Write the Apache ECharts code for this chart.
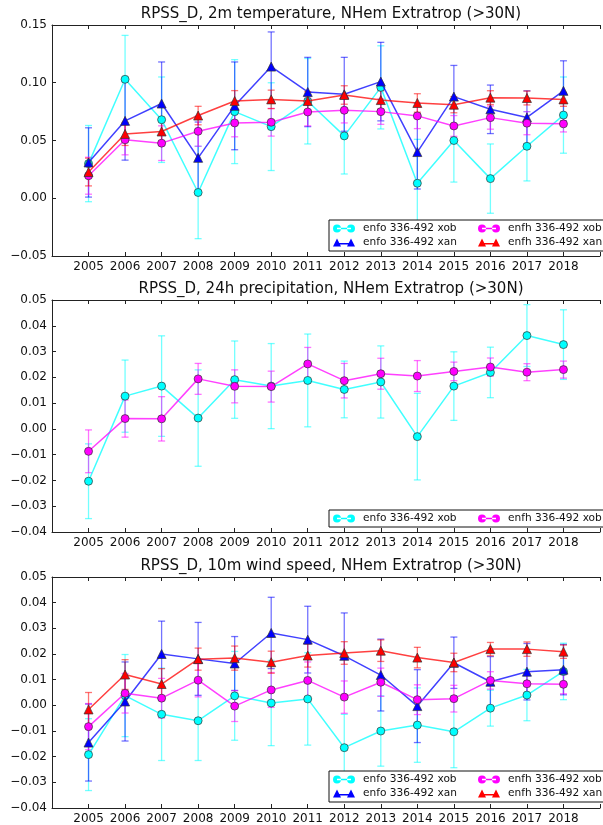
<!DOCTYPE html>
<html>
<head>
<meta charset="utf-8">
<script src="https://cdn.jsdelivr.net/npm/echarts@6/dist/echarts.min.js"></script>
<style>html,body{margin:0;padding:0;background:#fff}#c{width:603px;height:825px}</style>
</head>
<body>
<div id="c"></div>
<script>
// ---------- data ----------
const years = [2005,2006,2007,2008,2009,2010,2011,2012,2013,2014,2015,2016,2017,2018];

// Panel 1: 2m temperature
const t2m_enfo_xob     = [0.030,0.103,0.068,0.005,0.075,0.062,0.084,0.054,0.096,0.013,0.050,0.017,0.045,0.072];
const t2m_enfo_xob_err = [0.033,0.038,0.037,0.040,0.045,0.038,0.037,0.033,0.036,0.038,0.036,0.030,0.030,0.033];
const t2m_enfo_xan     = [0.031,0.067,0.082,0.035,0.080,0.114,0.092,0.090,0.101,0.040,0.088,0.077,0.070,0.093];
const t2m_enfo_xan_err = [0.030,0.034,0.036,0.031,0.038,0.030,0.030,0.032,0.034,0.032,0.027,0.021,0.023,0.026];
const t2m_enfh_xob     = [0.0195,0.0506,0.0477,0.058,0.0652,0.0658,0.0747,0.0762,0.075,0.0713,0.0626,0.0698,0.065,0.0644];
const t2m_enfh_xob_err = [0.016,0.013,0.015,0.013,0.012,0.012,0.012,0.011,0.011,0.011,0.009,0.010,0.010,0.007];
const t2m_enfh_xan     = [0.0227,0.0557,0.0578,0.0716,0.0842,0.0856,0.0842,0.0894,0.085,0.0825,0.081,0.0871,0.0868,0.0856];
const t2m_enfh_xan_err = [0.012,0.010,0.010,0.008,0.009,0.008,0.008,0.008,0.008,0.008,0.007,0.006,0.006,0.006];

// Panel 2: 24h precipitation
const tp_enfo_xob     = [-0.0203,0.0127,0.0166,0.0042,0.0191,0.0166,0.0188,0.0153,0.0182,-0.0030,0.0166,0.0219,0.0362,0.0327];
const tp_enfo_xob_err = [0.0145,0.014,0.0195,0.0187,0.015,0.0165,0.018,0.011,0.014,0.0168,0.0133,0.0098,0.012,0.0135];
const tp_enfh_xob     = [-0.0087,0.0040,0.0039,0.0194,0.0165,0.0164,0.0252,0.0187,0.0214,0.0205,0.0223,0.0240,0.0220,0.0230];
const tp_enfh_xob_err = [0.0083,0.0072,0.0086,0.006,0.0064,0.006,0.0064,0.0067,0.006,0.006,0.0036,0.0035,0.0033,0.0033];

// Panel 3: 10m wind speed
const ws_enfo_xob     = [-0.0192,0.0038,-0.0035,-0.0060,0.0037,0.0009,0.0025,-0.0165,-0.0100,-0.0077,-0.0103,-0.0011,0.0040,0.0132];
const ws_enfo_xob_err = [0.014,0.016,0.018,0.0155,0.0173,0.0166,0.018,0.013,0.0137,0.0145,0.014,0.007,0.010,0.011];
const ws_enfo_xan     = [-0.0145,0.0015,0.0200,0.0181,0.0163,0.0282,0.0256,0.0193,0.0118,-0.0003,0.0166,0.0092,0.0131,0.0139];
const ws_enfo_xan_err = [0.015,0.0154,0.0128,0.0142,0.0105,0.0139,0.013,0.0167,0.014,0.0142,0.010,0.0098,0.011,0.0098];
const ws_enfh_xob     = [-0.0083,0.0047,0.0028,0.0098,-0.0003,0.0060,0.0097,0.0032,0.0090,0.0022,0.0026,0.0097,0.0084,0.0082];
const ws_enfh_xob_err = [0.009,0.0077,0.0077,0.0065,0.006,0.0068,0.0072,0.0063,0.0055,0.0058,0.0052,0.0034,0.004,0.0037];
const ws_enfh_xan     = [-0.0016,0.0120,0.0083,0.0180,0.0184,0.0168,0.0194,0.0204,0.0213,0.0186,0.0167,0.0219,0.0219,0.0209];
const ws_enfh_xan_err = [0.0066,0.0058,0.006,0.0043,0.0047,0.0043,0.0045,0.0044,0.0042,0.004,0.0036,0.0026,0.0028,0.0026];

const titles = [
  'RPSS_D, 2m temperature, NHem Extratrop (>30N)',
  'RPSS_D, 24h precipitation, NHem Extratrop (>30N)',
  'RPSS_D, 10m wind speed, NHem Extratrop (>30N)'
];
const names = {
  enfo_xob: 'enfo 336-492 xob', enfo_xan: 'enfo 336-492 xan',
  enfh_xob: 'enfh 336-492 xob', enfh_xan: 'enfh 336-492 xan'
};

// ---------- styling ----------
const FONT = 'DejaVu Sans';
const styles = {
  enfo_xob: {color: '#00ffff', symbol: 'circle', size: 8},
  enfo_xan: {color: '#0000ff', symbol: 'triangle', size: 9},
  enfh_xob: {color: '#ff00ff', symbol: 'circle', size: 8},
  enfh_xan: {color: '#ff0000', symbol: 'triangle', size: 9}
};
const ICON_CIRCLE = 'path://M0,4a4,4 0 1,0 8,0a4,4 0 1,0 -8,0ZM14,4a4,4 0 1,0 8,0a4,4 0 1,0 -8,0ZM4,3.3L18,3.3L18,4.7L4,4.7Z';
const ICON_TRI = 'path://M0,8L4,0L8,8ZM14,8L18,0L22,8ZM4,4.6L18,4.6L18,6L4,6Z';

const panels = [
  {grid: {left: 52, top: 25, width: 558, height: 231}, ymin: -0.05, ymax: 0.15, yint: 0.05, titleTop: 6.5,
   series: [['enfo_xob', t2m_enfo_xob, t2m_enfo_xob_err], ['enfo_xan', t2m_enfo_xan, t2m_enfo_xan_err],
            ['enfh_xob', t2m_enfh_xob, t2m_enfh_xob_err], ['enfh_xan', t2m_enfh_xan, t2m_enfh_xan_err]],
   legendTop: 220},
  {grid: {left: 52, top: 300, width: 558, height: 232}, ymin: -0.04, ymax: 0.05, yint: 0.01, titleTop: 282,
   series: [['enfo_xob', tp_enfo_xob, tp_enfo_xob_err], ['enfh_xob', tp_enfh_xob, tp_enfh_xob_err]],
   legendTop: 510},
  {grid: {left: 52, top: 577, width: 558, height: 231}, ymin: -0.04, ymax: 0.05, yint: 0.01, titleTop: 558.5,
   series: [['enfo_xob', ws_enfo_xob, ws_enfo_xob_err], ['enfo_xan', ws_enfo_xan, ws_enfo_xan_err],
            ['enfh_xob', ws_enfh_xob, ws_enfh_xob_err], ['enfh_xan', ws_enfh_xan, ws_enfh_xan_err]],
   legendTop: 771}
];

const option = {
  animation: false,
  backgroundColor: '#fff',
  textStyle: {fontFamily: FONT},
  title: [], grid: [], xAxis: [], yAxis: [], series: [], legend: []
};

function fmtY(v, dec) {
  const s = Math.abs(v) < 1e-9 ? (0).toFixed(dec) : v.toFixed(dec);
  return s.replace('-', '\u2212');
}

panels.forEach((p, gi) => {
  option.title.push({
    text: titles[gi], left: 331, top: p.titleTop, textAlign: 'center', padding: 0,
    textStyle: {fontSize: 15, fontWeight: 'normal', color: '#111', fontFamily: FONT}
  });
  option.grid.push(p.grid);
  const axisLine = {show: true, onZero: false, lineStyle: {color: '#222', width: 1}};
  const dec = 2;
  option.xAxis.push({
    type: 'value', gridIndex: gi, min: 2004, max: 2019, interval: 1, position: 'bottom',
    axisLine: axisLine, splitLine: {show: false},
    axisTick: {show: true, inside: true, length: 4, lineStyle: {color: '#222'}},
    axisLabel: {show: true, margin: 5, fontSize: 12, color: '#111', fontFamily: FONT,
      formatter: v => years.indexOf(Math.round(v)) >= 0 ? String(Math.round(v)) : ''}
  });
  option.xAxis.push({
    type: 'value', gridIndex: gi, min: 2004, max: 2019, interval: 1, position: 'top',
    axisLine: axisLine, splitLine: {show: false},
    axisTick: {show: true, inside: true, length: 4, lineStyle: {color: '#222'}},
    axisLabel: {show: false}
  });
  option.yAxis.push({
    type: 'value', gridIndex: gi, min: p.ymin, max: p.ymax, interval: p.yint,
    axisLine: axisLine, splitLine: {show: false},
    axisTick: {show: true, inside: true, length: 4, lineStyle: {color: '#222'}},
    axisLabel: {show: true, margin: 5, fontSize: 12, color: '#111', fontFamily: FONT,
      formatter: v => fmtY(v, dec)}
  });
  const xIdx = gi * 2;
  // error bars first (beneath lines)
  p.series.forEach(([key, vals, errs]) => {
    const st = styles[key];
    option.series.push({
      type: 'custom', name: 'err_' + gi + '_' + key, xAxisIndex: xIdx, yAxisIndex: gi, z: 2,
      data: years.map((y, i) => [y, vals[i] - errs[i], vals[i] + errs[i]]),
      renderItem: function (params, api) {
        const x = api.value(0);
        const pLo = api.coord([x, api.value(1)]);
        const pHi = api.coord([x, api.value(2)]);
        const c = 3.5;
        const s = {stroke: st.color, lineWidth: 1.3, opacity: 0.55};
        return {type: 'group', children: [
          {type: 'line', shape: {x1: pLo[0], y1: pLo[1], x2: pHi[0], y2: pHi[1]}, style: s},
          {type: 'line', shape: {x1: pLo[0] - c, y1: pLo[1], x2: pLo[0] + c, y2: pLo[1]}, style: s},
          {type: 'line', shape: {x1: pHi[0] - c, y1: pHi[1], x2: pHi[0] + c, y2: pHi[1]}, style: s}
        ]};
      }
    });
  });
  p.series.forEach(([key, vals], si) => {
    const st = styles[key];
    option.series.push({
      type: 'line', name: names[key], xAxisIndex: xIdx, yAxisIndex: gi, z: 3 + si,
      data: years.map((y, i) => [y, vals[i]]),
      symbol: st.symbol, symbolSize: st.size, showSymbol: true,
      itemStyle: {color: st.color, borderColor: '#333', borderWidth: 0.7},
      lineStyle: {color: st.color, width: 1.5, opacity: 0.75},
      emphasis: {disabled: true}
    });
  });
  // legend: column-wise order like matplotlib (ncol=2)
  const order = p.series.length === 4
    ? ['enfo_xob', 'enfh_xob', 'enfo_xan', 'enfh_xan']
    : ['enfo_xob', 'enfh_xob'];
  option.legend.push({
    left: 329, top: p.legendTop, width: 290, orient: 'horizontal',
    padding: [3, 4, 3, 4], itemGap: 3, itemWidth: 22, itemHeight: 8,
    backgroundColor: '#fff', borderColor: '#111', borderWidth: 1, borderRadius: 0,
    selectedMode: false,
    itemStyle: {borderWidth: 0},
    textStyle: {fontSize: 10.6, color: '#111', fontFamily: FONT, width: 112, lineHeight: 10, padding: [0, 0, 0, 3]},
    data: order.map(k => ({name: names[k], icon: styles[k].symbol === 'circle' ? ICON_CIRCLE : ICON_TRI}))
  });
});

const chart = echarts.init(document.getElementById('c'), null, {renderer: 'canvas'});
chart.setOption(option);
</script>
</body>
</html>
